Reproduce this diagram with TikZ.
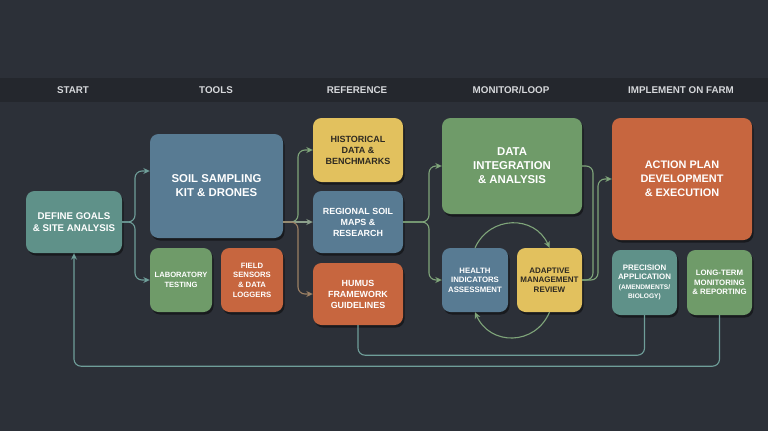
\documentclass[tikz,border=0pt]{standalone}
\usepackage{fontspec}
\setmainfont{Liberation Sans}
\usetikzlibrary{arrows.meta,shadows,calc}
\definecolor{bg}{HTML}{2C3038}
\definecolor{band}{HTML}{24272D}
\definecolor{hdrtxt}{HTML}{D6D8DB}
\definecolor{cteal}{HTML}{5F9189}
\definecolor{cblue}{HTML}{587B93}
\definecolor{cgreen}{HTML}{6F9B69}
\definecolor{corange}{HTML}{C7663F}
\definecolor{cyellow}{HTML}{E2C15E}
\definecolor{darktxt}{HTML}{2E2A22}
\definecolor{lteal}{HTML}{6F9E99}
\definecolor{lgreen}{HTML}{7FA57A}
\definecolor{lgrey}{HTML}{8CA08C}
\definecolor{lbrown}{HTML}{9C8064}
\begin{document}
\begin{tikzpicture}[x=1pt,y=-1pt,
  hdr/.style={text=hdrtxt,font={\fontsize{9.8}{11}\selectfont\bfseries}},
  box/.style={rounded corners=8.5pt,align=center,inner sep=0pt,text=white,
    drop shadow={shadow xshift=1.5pt,shadow yshift=-2.5pt,opacity=0.45,fill=black}},
  conn/.style={line width=1.1pt,rounded corners=7pt},
  arr/.style={-{Stealth[length=6.5pt,width=6pt]}}]
\useasboundingbox (0,0) rectangle (768,431);
\fill[bg] (0,0) rectangle (768,431);
\fill[band] (0,78) rectangle (768,102);
% headers
\node[hdr] (h1) at (73,90) {START};
\node[hdr] (h2) at (216,90) {TOOLS};
\node[hdr] (h3) at (357,90) {REFERENCE};
\node[hdr] (h4) at (511,90) {MONITOR/LOOP};
\node[hdr] (h5) at (681,90) {IMPLEMENT ON FARM};
% boxes
\node[box,fill=cteal,minimum width=96pt,minimum height=62pt,font={\fontsize{9.7}{11.7}\selectfont\bfseries}] (goals) at (74,222) {DEFINE GOALS\\\& SITE ANALYSIS};
\node[box,fill=cblue,minimum width=133pt,minimum height=104pt,font={\fontsize{11.4}{14}\selectfont\bfseries}] (soil) at (216.5,186) {SOIL SAMPLING\\KIT \& DRONES};
\node[box,fill=cgreen,minimum width=62pt,minimum height=64pt,font={\fontsize{7.6}{10}\selectfont\bfseries}] (lab) at (181,280) {LABORATORY\\TESTING};
\node[box,fill=corange,minimum width=62pt,minimum height=64pt,font={\fontsize{7.7}{9.7}\selectfont\bfseries}] (field) at (252,280) {FIELD\\SENSORS\\\& DATA\\LOGGERS};
\node[box,fill=cyellow,text=darktxt,minimum width=90pt,minimum height=64pt,font={\fontsize{9}{11}\selectfont\bfseries}] (hist) at (358,150) {HISTORICAL\\DATA \&\\BENCHMARKS};
\node[box,fill=cblue,minimum width=90pt,minimum height=62pt,font={\fontsize{8.9}{11}\selectfont\bfseries}] (regional) at (358,222) {REGIONAL SOIL\\MAPS \&\\RESEARCH};
\node[box,fill=corange,minimum width=90pt,minimum height=62pt,font={\fontsize{8.9}{11}\selectfont\bfseries}] (humus) at (358,294) {HUMUS\\FRAMEWORK\\GUIDELINES};
\node[box,fill=cgreen,minimum width=140pt,minimum height=96pt,font={\fontsize{11.4}{14}\selectfont\bfseries}] (di) at (512,166) {DATA\\INTEGRATION\\\& ANALYSIS};
\node[box,fill=cblue,minimum width=66pt,minimum height=64pt,font={\fontsize{7.8}{9.5}\selectfont\bfseries}] (health) at (475,280) {HEALTH\\INDICATORS\\ASSESSMENT};
\node[box,fill=cyellow,text=darktxt,minimum width=65pt,minimum height=64pt,font={\fontsize{8}{9.6}\selectfont\bfseries}] (adaptive) at (549.5,280) {ADAPTIVE\\MANAGEMENT\\REVIEW};
\node[box,fill=corange,minimum width=140pt,minimum height=122pt,font={\fontsize{10.9}{14}\selectfont\bfseries}] (action) at (682,179) {ACTION PLAN\\DEVELOPMENT\\\& EXECUTION};
\node[box,fill=cteal,minimum width=65pt,minimum height=65pt,font={\fontsize{7.9}{9.2}\selectfont\bfseries}] (precision) at (644.5,282.5) {PRECISION\\APPLICATION\\{\fontsize{6.6}{9}\selectfont(AMENDMENTS/}\\{\fontsize{6.6}{9}\selectfont BIOLOGY)}};
\node[box,fill=cgreen,minimum width=65pt,minimum height=65pt,font={\fontsize{7.8}{9.5}\selectfont\bfseries}] (longterm) at (719.5,282.5) {LONG-TERM\\MONITORING\\\& REPORTING};
% connectors: start -> tools
\draw[conn,arr,lteal] (goals.east) -- (135,222) |- ([yshift=15pt]soil.west);
\draw[conn,arr,lteal] (goals.east) -- (135,222) |- (lab.west);
% tools -> reference
\draw[conn,arr,lgreen] (soil.east |- regional.west) -- (298,222) |- (hist.west);
\draw[conn,arr,lgrey] (soil.east |- regional.west) -- (regional.west);
\draw[conn,arr,lbrown] (soil.east |- regional.west) -- (298,222) |- (humus.west);
% reference -> monitor
\draw[conn,arr,lgreen] (regional.east) -- (429,222) |- (di.west);
\draw[conn,arr,lgreen] (regional.east) -- (429,222) |- (health.west);
% monitor bracket -> action
\draw[conn,lgreen] (di.east) -- (593,166) |- (adaptive.east);
\draw[conn,arr,lgreen] (adaptive.east) -- (598,280) |- (action.west);
% loop
\draw[line width=1.1pt,arr,lgreen] (health.north) .. controls (490,215) and (535,215) .. (adaptive.north);
\draw[line width=1.1pt,arr,lgreen] (adaptive.south) .. controls (535,346) and (490,346) .. (health.south);
% bottom loops
\draw[conn,lteal] (humus.south) -- ++(0,30) -| (precision.south);
\draw[conn,arr,lteal] (longterm.south) -- ++(0,51) -| (goals.south);
\end{tikzpicture}
\end{document}
